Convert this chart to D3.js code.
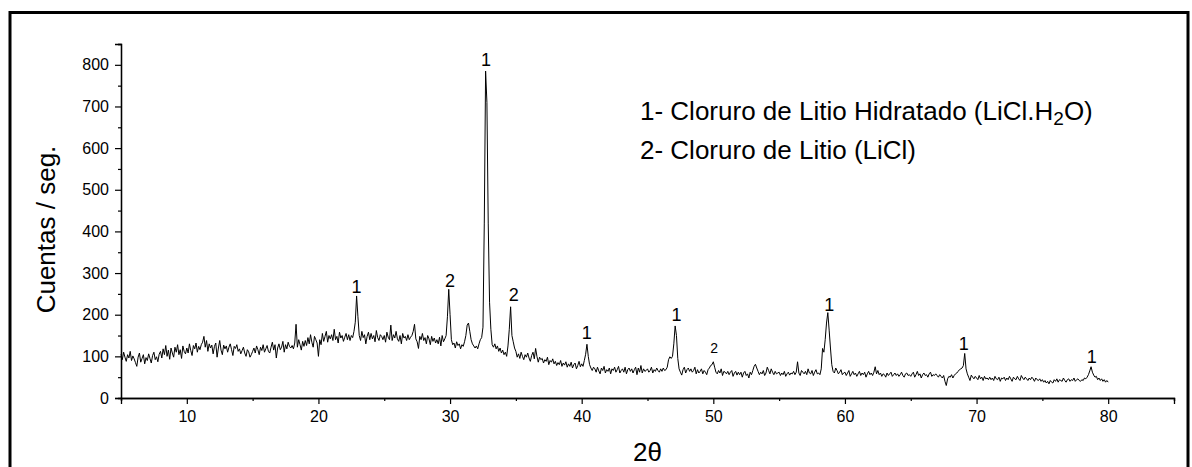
<!DOCTYPE html>
<html>
<head>
<meta charset="utf-8">
<script src="https://cdn.jsdelivr.net/npm/d3@7"></script>
<style>
  html, body { margin: 0; padding: 0; background: #fff; }
  svg { display: block; font-family: "Liberation Sans", Arial, sans-serif; }
</style>
</head>
<body>
<svg id="chart" width="1192" height="467"></svg>
<script>
// ---- data ----
const angleStart = 5;      // 2θ of first reading
const angleStep = 0.1;     // instrument step
const counts = [
  105, 92, 110, 98, 88, 104, 96, 112, 90, 101,      // 5
  94, 85, 76, 98, 108, 86, 95, 104, 82, 97,         // 6
  90, 106, 95, 84, 102, 110, 92, 99, 87, 105,       // 7
  112, 96, 118, 104, 126, 100, 115, 93, 120, 108,   // 8
  98, 122, 110, 128, 104, 116, 95, 125, 112, 106,   // 9
  120, 108, 130, 114, 102, 126, 118, 132, 110, 124, // 10
  116, 128, 134, 148, 122, 138, 112, 130, 120, 127, // 11
  106, 124, 132, 98, 120, 138, 115, 104, 127, 118,  // 12
  125, 110, 122, 130, 116, 102, 124, 119, 128, 112, // 13
  118, 106, 114, 122, 108, 100, 116, 111, 98, 104,  // 14
  112, 120, 108, 125, 116, 104, 122, 114, 128, 110, // 15
  118, 126, 112, 108, 122, 134, 115, 128, 96, 120,  // 16
  130, 116, 122, 136, 110, 128, 118, 134, 124, 120, // 17
  126, 118, 132, 177, 122, 140, 128, 115, 136, 124, // 18
  138, 126, 145, 130, 152, 134, 122, 148, 140, 132, // 19
  100, 140, 128, 155, 136, 148, 160, 134, 150, 142, // 20
  152, 138, 165, 140, 148, 132, 158, 144, 150, 136, // 21
  146, 155, 140, 152, 138, 150, 145, 160, 182, 245, // 22
  195, 150, 138, 160, 145, 152, 130, 148, 158, 140, // 23
  155, 142, 150, 135, 162, 145, 138, 152, 148, 140, // 24
  150, 134, 158, 146, 140, 175, 138, 152, 144, 160, // 25
  142, 136, 150, 130, 155, 144, 148, 138, 152, 140, // 26
  146, 150, 160, 177, 142, 135, 119, 148, 140, 155, // 27
  138, 145, 130, 150, 142, 128, 148, 136, 144, 132, // 28
  140, 130, 146, 125, 150, 135, 142, 150, 195, 261, // 29
  200, 140, 128, 132, 120, 135, 126, 130, 118, 128, // 30
  124, 135, 150, 175, 180, 160, 140, 130, 125, 120, // 31
  125, 118, 130, 140, 145, 170, 420, 785, 710, 420, // 32
  230, 165, 128, 122, 130, 118, 125, 112, 120, 108, // 33
  115, 104, 110, 100, 125, 165, 219, 150, 135, 120, // 34
  112, 98, 106, 95, 110, 100, 92, 104, 98, 108,     // 35
  96, 88, 102, 110, 94, 119, 100, 86, 98, 92,       // 36
  95, 84, 92, 88, 98, 80, 90, 86, 94, 82,           // 37
  88, 78, 85, 80, 90, 76, 84, 79, 87, 74,           // 38
  82, 76, 86, 72, 80, 84, 70, 78, 88, 75,           // 39
  82, 76, 90, 105, 129, 100, 80, 72, 66, 74,        // 40
  70, 62, 74, 65, 58, 72, 66, 76, 60, 68,           // 41
  64, 72, 58, 70, 66, 74, 62, 68, 76, 60,           // 42
  66, 70, 62, 74, 58, 68, 72, 64, 70, 60,           // 43
  68, 74, 56, 72, 62, 78, 60, 70, 64, 66,           // 44
  70, 62, 66, 74, 60, 68, 64, 72, 66, 62,           // 45
  70, 64, 72, 66, 68, 74, 92, 99, 95, 100,          // 46
  130, 173, 150, 95, 70, 62, 55, 68, 74, 60,        // 47
  68, 72, 64, 70, 62, 66, 74, 58, 68, 60,           // 48
  64, 70, 58, 66, 62, 56, 68, 72, 78, 80,           // 49
  87, 74, 62, 58, 66, 60, 70, 54, 64, 62,           // 50
  58, 64, 56, 62, 66, 52, 60, 64, 55, 62,           // 51
  56, 62, 50, 60, 64, 54, 58, 48, 62, 56,           // 52
  66, 76, 81, 72, 64, 56, 62, 58, 66, 54,           // 53
  60, 74, 66, 58, 70, 62, 56, 64, 58, 60,           // 54
  62, 54, 60, 56, 64, 52, 58, 62, 55, 60,           // 55
  58, 64, 56, 62, 87, 60, 54, 66, 62, 58,           // 56
  64, 56, 70, 60, 58, 66, 54, 62, 68, 58,           // 57
  60, 56, 70, 119, 110, 140, 180, 205, 163, 120,    // 58
  80, 64, 60, 72, 66, 58, 62, 68, 56, 60,           // 59
  62, 54, 60, 66, 52, 58, 64, 56, 60, 52,           // 60
  58, 64, 54, 60, 56, 62, 50, 58, 64, 56,           // 61
  60, 54, 62, 75, 58, 66, 56, 60, 52, 58,           // 62
  56, 50, 60, 54, 58, 62, 52, 56, 60, 54,           // 63
  58, 52, 56, 62, 54, 50, 58, 60, 54, 56,           // 64
  52, 58, 62, 50, 56, 64, 54, 58, 48, 56,           // 65
  60, 54, 56, 50, 58, 62, 52, 56, 54, 58,           // 66
  54, 50, 56, 52, 48, 54, 40, 30, 46, 52,           // 67
  50, 56, 48, 54, 58, 60, 64, 68, 70, 72,           // 68
  78, 107, 70, 58, 50, 42, 55, 50, 46, 52,          // 69
  48, 44, 54, 46, 50, 42, 52, 46, 48, 44,           // 70
  50, 44, 48, 42, 52, 46, 44, 50, 40, 48,           // 71
  46, 50, 42, 48, 44, 52, 46, 40, 50, 46,           // 72
  44, 52, 46, 42, 54, 48, 44, 50, 46, 42,           // 73
  48, 44, 50, 46, 40, 48, 44, 42, 46, 40,           // 74
  44, 38, 42, 36, 40, 34, 42, 38, 36, 44,           // 75
  40, 46, 38, 44, 42, 40, 48, 42, 38, 44,           // 76
  46, 40, 44, 42, 48, 40, 44, 46, 42, 40,           // 77
  44, 42, 48, 46, 50, 56, 65, 75, 62, 55,           // 78
  50, 52, 44, 48, 42, 46, 40, 44, 38, 42,           // 79
  38                                                // 80
];

// peak annotations
const peakAngles = [22.9, 30.0, 32.74, 34.83, 40.39, 47.2, 50.06, 58.8, 69.02, 78.76];
const peakLabels = ["1", "2", "1", "2", "1", "1", "2", "1", "1", "1"];
const peakLabelCounts = [252, 266, 796, 232, 141, 185, 107, 208, 115, 84];
const peakLabelSmall = [false, false, false, false, false, false, true, false, false, false];

// axes
const xDomain = [5, 85];
const yDomain = [0, 850];
const xMajorTicks = [10, 20, 30, 40, 50, 60, 70, 80];
const xMinorTicks = [5, 15, 25, 35, 45, 55, 65, 75, 85];
const yMajorTicks = [0, 100, 200, 300, 400, 500, 600, 700, 800];
const yMinorTicks = [50, 150, 250, 350, 450, 550, 650, 750, 850];

const xTitle = "2θ";
const yTitle = "Cuentas / seg.";
const legendLines = [
  { pre: "1- Cloruro de Litio Hidratado (LiCl.H", sub: "2", post: "O)" },
  { pre: "2- Cloruro de Litio (LiCl)", sub: "", post: "" }
];

// ---- drawing ----
(function draw() {
  const svg = d3.select("#chart");
  const mLeft = 121, mRight = 1174, mTop = 44, mBottom = 398;

  // outer frame
  svg.append("rect")
    .attr("x", 10).attr("y", 12.5)
    .attr("width", 1178).attr("height", 480)
    .attr("fill", "none").attr("stroke", "#000").attr("stroke-width", 3);

  const x = d3.scaleLinear().domain(xDomain).range([mLeft, mRight]);
  const y = d3.scaleLinear().domain(yDomain).range([mBottom, mTop]);

  const data = counts.map((c, i) => ({ a: angleStart + i * angleStep, c }));

  const font = "Liberation Sans, Arial, sans-serif";

  // x axis
  const gx = svg.append("g").attr("transform", `translate(0,${mBottom})`);
  gx.append("g").call(d3.axisBottom(x).tickValues(xMinorTicks).tickSize(3).tickFormat(""))
    .call(g => g.select(".domain").attr("stroke-width", 1.3))
    .call(g => g.selectAll(".tick line").attr("stroke-width", 1.2));
  gx.append("g").call(d3.axisBottom(x).tickValues(xMajorTicks).tickSize(6).tickPadding(7).tickFormat(d3.format("d")))
    .call(g => g.select(".domain").attr("stroke-width", 1.3))
    .call(g => g.selectAll(".tick line").attr("stroke-width", 1.2))
    .call(g => g.selectAll("text").attr("font-size", 16).attr("font-family", font).attr("fill", "#000"));

  // y axis
  const gy = svg.append("g").attr("transform", `translate(${mLeft},0)`);
  gy.append("g").call(d3.axisLeft(y).tickValues(yMinorTicks).tickSize(3).tickFormat(""))
    .call(g => g.select(".domain").attr("stroke-width", 1.3))
    .call(g => g.selectAll(".tick line").attr("stroke-width", 1.2));
  gy.append("g").call(d3.axisLeft(y).tickValues(yMajorTicks).tickSize(6).tickPadding(6).tickFormat(d3.format("d")))
    .call(g => g.select(".domain").attr("stroke-width", 1.3))
    .call(g => g.selectAll(".tick line").attr("stroke-width", 1.2))
    .call(g => g.selectAll("text").attr("font-size", 16).attr("font-family", font).attr("fill", "#000"));

  // pattern line
  const line = d3.line().x(d => x(d.a)).y(d => y(d.c));
  svg.append("path").datum(data)
    .attr("d", line).attr("fill", "none")
    .attr("stroke", "#000").attr("stroke-width", 1).attr("stroke-linejoin", "round");

  // peak labels
  svg.append("g").selectAll("text").data(peakAngles).join("text")
    .attr("x", d => x(d))
    .attr("y", (d, i) => y(peakLabelCounts[i]))
    .attr("text-anchor", "middle")
    .attr("font-size", (d, i) => peakLabelSmall[i] ? 14 : 18)
    .attr("fill", "#000")
    .text((d, i) => peakLabels[i]);

  // legend text
  const lg = svg.append("g");
  legendLines.forEach((l, i) => {
    const t = lg.append("text").attr("x", 640).attr("y", 120 + i * 38.5)
      .attr("font-size", 26).attr("fill", "#000");
    t.append("tspan").text(l.pre);
    if (l.sub) {
      t.append("tspan").attr("font-size", 19).attr("dy", 5).text(l.sub);
      t.append("tspan").attr("dy", -5).text(l.post);
    }
  });

  // axis titles
  svg.append("text")
    .attr("x", (mLeft + mRight) / 2).attr("y", 461)
    .attr("text-anchor", "middle").attr("font-size", 26).attr("fill", "#000")
    .text(xTitle);

  svg.append("text")
    .attr("transform", `translate(55,229.5) rotate(-90)`)
    .attr("text-anchor", "middle").attr("font-size", 26).attr("fill", "#000")
    .text(yTitle);
})();
</script>
</body>
</html>
